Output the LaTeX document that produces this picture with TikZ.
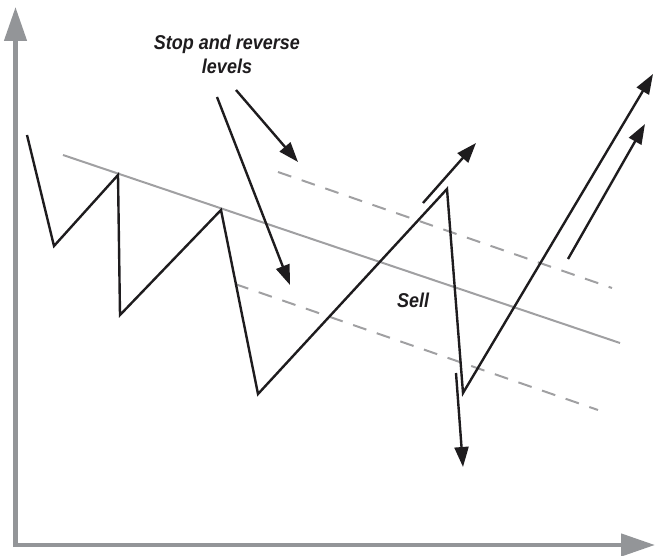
\documentclass[tikz,border=0pt]{standalone}
\usepackage{fontspec}
\usetikzlibrary{arrows.meta}
\newfontfamily\chartfont[FakeStretch=0.9]{Liberation Sans}
\definecolor{axisgray}{RGB}{147,149,152}
\definecolor{linegray}{RGB}{160,160,162}
\definecolor{pricek}{RGB}{30,28,30}
\tikzset{sarchart/.style={x=1pt,y=-1pt,font=\chartfont\bfseries\itshape\fontsize{20}{24}\selectfont},
  axisline/.style={axisgray,line width=4.5pt,-{Triangle[length=34pt,width=22pt]}},
  price/.style={pricek,line width=2.4pt,line join=miter},
  pricearrow/.style={price,-{Triangle[length=20pt,width=14pt]}},
  trendline/.style={linegray,line width=2pt},
  stopline/.style={linegray,line width=2pt,dash pattern=on 14pt off 11pt}}

\begin{document}
\begin{tikzpicture}[sarchart]
    \useasboundingbox (0,0) rectangle (656,556);
    % axes
    \coordinate (origin) at (15.5,545);
    \coordinate (ytop) at (15.5,7);
    \coordinate (xend) at (655,545);
    \draw[axisline] (15.5,547) -- (ytop);
    \draw[axisline] (13,545) -- (xend);
    % trend line and stop and reverse levels
    \coordinate (t1) at (63,155);   \coordinate (t2) at (620,343);
    \coordinate (u1) at (278,172);  \coordinate (u2) at (612,288);
    \coordinate (l1) at (235,284);  \coordinate (l2) at (598,410);
    \draw[trendline] (t1) -- (t2);
    \draw[stopline] (u1) -- (u2);
    \draw[stopline] (l1) -- (l2);
    % price swings
    \coordinate (p0) at (27,135);  \coordinate (p1) at (54,246);
    \coordinate (p2) at (118,175); \coordinate (p3) at (120,315);
    \coordinate (p4) at (221,210); \coordinate (p5) at (258,394);
    \coordinate (p6) at (447,189); \coordinate (p7) at (463,393);
    \coordinate (p8) at (653,74);
    \draw[pricearrow] (p0) -- (p1) -- (p2) -- (p3) -- (p4) -- (p5) -- (p6) -- (p7) -- (p8);
    \coordinate (a1) at (423,203); \coordinate (a2) at (476,143);  % up move
    \coordinate (s1) at (456,373); \coordinate (s2) at (463,467);  % sell
    \coordinate (b1) at (568,259); \coordinate (b2) at (645,124);  % reversal
    \draw[pricearrow] (a1) -- (a2);
    \draw[pricearrow] (s1) -- (s2);
    \draw[pricearrow] (b1) -- (b2);
    % labels
    \node[anchor=base,pricek] (stoptxt) at (227,50) {Stop and reverse};
    \node[anchor=base,pricek] (levtxt) at (227,74) {levels};
    \node[anchor=base west,pricek,inner sep=0pt] (selltxt) at (397,307) {Sell};
    \coordinate (k1) at (217,97);  \coordinate (k2) at (290,285);
    \coordinate (m1) at (236,90);  \coordinate (m2) at (298,162);
    \draw[pricearrow] (k1) -- (k2);
    \draw[pricearrow] (m1) -- (m2);
  \end{tikzpicture}
\end{document}
